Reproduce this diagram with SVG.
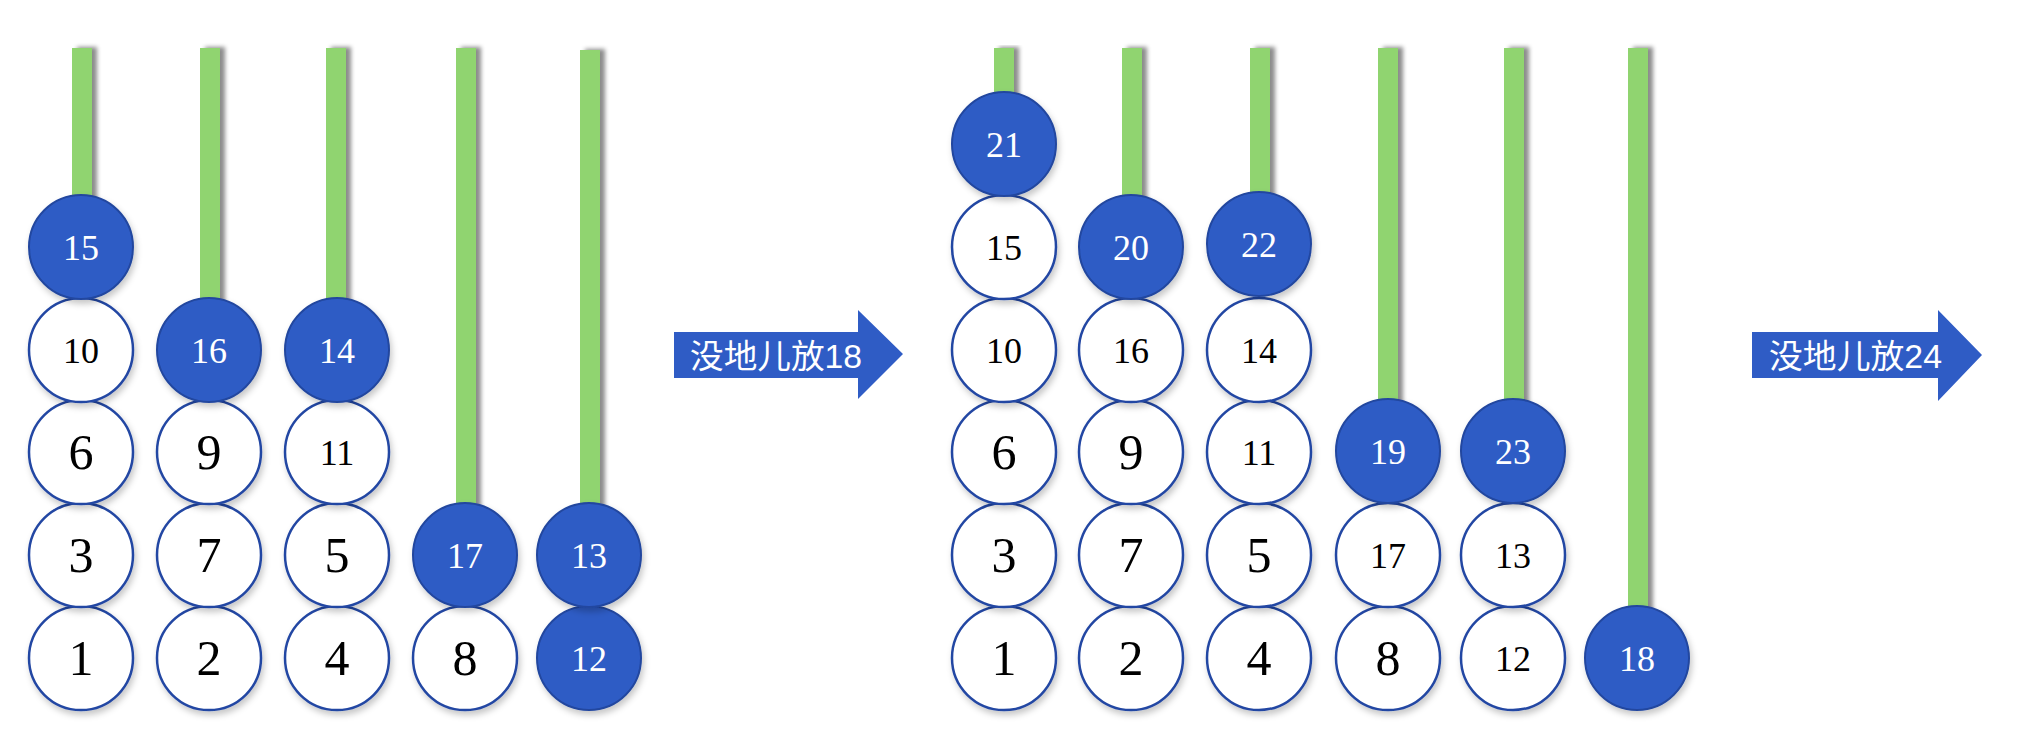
<svg xmlns="http://www.w3.org/2000/svg" width="2040" height="734" viewBox="0 0 2040 734">
<style>
.bar{fill:#90D46F;filter:url(#barShadow)}
.w{fill:#FFFFFF;stroke:#2447A3;stroke-width:2.5;filter:url(#ballShadow)}
.b{fill:#2F5CC5;stroke:#22479F;stroke-width:2;filter:url(#ballShadow)}
.t1{font-family:"Liberation Serif","Times New Roman",serif;font-size:50px;fill:#000;text-anchor:middle}
.t2{font-family:"Liberation Serif","Times New Roman",serif;font-size:36px;fill:#000;text-anchor:middle}
.tb{font-family:"Liberation Serif","Times New Roman",serif;font-size:36px;fill:#FFFFFF;text-anchor:middle}
.arrow{fill:#2F5CC5}
.at{font-family:"Liberation Sans","Noto Sans CJK SC",sans-serif;font-size:33px;fill:#FFFFFF}
</style>
<defs>
<filter id="barShadow" x="-50%" y="-5%" width="200%" height="110%">
<feDropShadow dx="5" dy="-1" stdDeviation="2" flood-color="#000" flood-opacity="0.45"/>
</filter>
<filter id="ballShadow" x="-20%" y="-20%" width="140%" height="150%">
<feDropShadow dx="2" dy="4" stdDeviation="3" flood-color="#000" flood-opacity="0.22"/>
</filter>
</defs>

<g id="left-bars">
<rect class="bar" x="72" y="48" width="20" height="160"/>
<rect class="bar" x="200" y="48" width="20" height="260"/>
<rect class="bar" x="326" y="48" width="20" height="260"/>
<rect class="bar" x="456" y="48" width="20" height="460"/>
<rect class="bar" x="580" y="50" width="20" height="458"/>
</g>

<g id="left-col1">
<g id="L1"><circle class="w" cx="81" cy="658" r="52"/><text class="t1" x="81" y="675">1</text></g>
<g id="L3"><circle class="w" cx="81" cy="555" r="52"/><text class="t1" x="81" y="572">3</text></g>
<g id="L6"><circle class="w" cx="81" cy="452" r="52"/><text class="t1" x="81" y="469">6</text></g>
<g id="L10"><circle class="w" cx="81" cy="350" r="52"/><text class="t2" x="81" y="363">10</text></g>
<g id="L15"><circle class="b" cx="81" cy="247" r="52"/><text class="tb" x="81" y="260">15</text></g>
</g>
<g id="left-col2">
<g id="L2"><circle class="w" cx="209" cy="658" r="52"/><text class="t1" x="209" y="675">2</text></g>
<g id="L7"><circle class="w" cx="209" cy="555" r="52"/><text class="t1" x="209" y="572">7</text></g>
<g id="L9"><circle class="w" cx="209" cy="452" r="52"/><text class="t1" x="209" y="469">9</text></g>
<g id="L16"><circle class="b" cx="209" cy="350" r="52"/><text class="tb" x="209" y="363">16</text></g>
</g>
<g id="left-col3">
<g id="L4"><circle class="w" cx="337" cy="658" r="52"/><text class="t1" x="337" y="675">4</text></g>
<g id="L5"><circle class="w" cx="337" cy="555" r="52"/><text class="t1" x="337" y="572">5</text></g>
<g id="L11"><circle class="w" cx="337" cy="452" r="52"/><text class="t2" x="337" y="465">11</text></g>
<g id="L14"><circle class="b" cx="337" cy="350" r="52"/><text class="tb" x="337" y="363">14</text></g>
</g>
<g id="left-col4">
<g id="L8"><circle class="w" cx="465" cy="658" r="52"/><text class="t1" x="465" y="675">8</text></g>
<g id="L17"><circle class="b" cx="465" cy="555" r="52"/><text class="tb" x="465" y="568">17</text></g>
</g>
<g id="left-col5">
<g id="L12"><circle class="b" cx="589" cy="658" r="52"/><text class="tb" x="589" y="671">12</text></g>
<g id="L13"><circle class="b" cx="589" cy="555" r="52"/><text class="tb" x="589" y="568">13</text></g>
</g>

<g id="arrow1">
<polygon class="arrow" points="674,332 858,332 858,310 903,354 858,399 858,378 674,378"/>
<text class="at" x="690" y="368" textLength="172" lengthAdjust="spacingAndGlyphs">没地儿放18</text>
</g>

<g id="right-bars">
<rect class="bar" x="994" y="48" width="20" height="60"/>
<rect class="bar" x="1122" y="48" width="20" height="160"/>
<rect class="bar" x="1250" y="48" width="20" height="160"/>
<rect class="bar" x="1378" y="48" width="20" height="360"/>
<rect class="bar" x="1504" y="48" width="20" height="360"/>
<rect class="bar" x="1628" y="48" width="20" height="570"/>
</g>

<g id="right-col1">
<g id="R1"><circle class="w" cx="1004" cy="658" r="52"/><text class="t1" x="1004" y="675">1</text></g>
<g id="R3"><circle class="w" cx="1004" cy="555" r="52"/><text class="t1" x="1004" y="572">3</text></g>
<g id="R6"><circle class="w" cx="1004" cy="452" r="52"/><text class="t1" x="1004" y="469">6</text></g>
<g id="R10"><circle class="w" cx="1004" cy="350" r="52"/><text class="t2" x="1004" y="363">10</text></g>
<g id="R15"><circle class="w" cx="1004" cy="247" r="52"/><text class="t2" x="1004" y="260">15</text></g>
<g id="R21"><circle class="b" cx="1004" cy="144" r="52"/><text class="tb" x="1004" y="157">21</text></g>
</g>
<g id="right-col2">
<g id="R2"><circle class="w" cx="1131" cy="658" r="52"/><text class="t1" x="1131" y="675">2</text></g>
<g id="R7"><circle class="w" cx="1131" cy="555" r="52"/><text class="t1" x="1131" y="572">7</text></g>
<g id="R9"><circle class="w" cx="1131" cy="452" r="52"/><text class="t1" x="1131" y="469">9</text></g>
<g id="R16"><circle class="w" cx="1131" cy="350" r="52"/><text class="t2" x="1131" y="363">16</text></g>
<g id="R20"><circle class="b" cx="1131" cy="247" r="52"/><text class="tb" x="1131" y="260">20</text></g>
</g>
<g id="right-col3">
<g id="R4"><circle class="w" cx="1259" cy="658" r="52"/><text class="t1" x="1259" y="675">4</text></g>
<g id="R5"><circle class="w" cx="1259" cy="555" r="52"/><text class="t1" x="1259" y="572">5</text></g>
<g id="R11"><circle class="w" cx="1259" cy="452" r="52"/><text class="t2" x="1259" y="465">11</text></g>
<g id="R14"><circle class="w" cx="1259" cy="350" r="52"/><text class="t2" x="1259" y="363">14</text></g>
<g id="R22"><circle class="b" cx="1259" cy="244" r="52"/><text class="tb" x="1259" y="257">22</text></g>
</g>
<g id="right-col4">
<g id="R8"><circle class="w" cx="1388" cy="658" r="52"/><text class="t1" x="1388" y="675">8</text></g>
<g id="R17"><circle class="w" cx="1388" cy="555" r="52"/><text class="t2" x="1388" y="568">17</text></g>
<g id="R19"><circle class="b" cx="1388" cy="451" r="52"/><text class="tb" x="1388" y="464">19</text></g>
</g>
<g id="right-col5">
<g id="R12"><circle class="w" cx="1513" cy="658" r="52"/><text class="t2" x="1513" y="671">12</text></g>
<g id="R13"><circle class="w" cx="1513" cy="555" r="52"/><text class="t2" x="1513" y="568">13</text></g>
<g id="R23"><circle class="b" cx="1513" cy="451" r="52"/><text class="tb" x="1513" y="464">23</text></g>
</g>
<g id="right-col6">
<g id="R18"><circle class="b" cx="1637" cy="658" r="52"/><text class="tb" x="1637" y="671">18</text></g>
</g>

<g id="arrow2">
<polygon class="arrow" points="1752,332 1938,332 1938,310 1982,355 1938,401 1938,378 1752,378"/>
<text class="at" x="1769" y="368" textLength="173" lengthAdjust="spacingAndGlyphs">没地儿放24</text>
</g>
</svg>
